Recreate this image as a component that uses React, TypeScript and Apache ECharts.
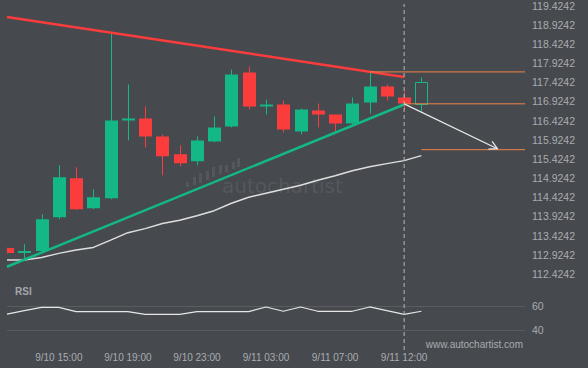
import React, { useEffect, useRef } from 'react';
import * as echarts from 'echarts';

// ---- data ----
const xLabelIndex = [3, 7, 11, 15, 19, 23];
const xLabelText = ['9/10 15:00', '9/10 19:00', '9/10 23:00', '9/11 03:00', '9/11 07:00', '9/11 12:00'];
const yTickLabels = [
  '112.4242', '112.9242', '113.4242', '113.9242', '114.4242', '114.9242', '115.4242', '115.9242',
  '116.4242', '116.9242', '117.4242', '117.9242', '118.4242', '118.9242', '119.4242',
];
const priceMin = 112.4242;
const priceMax = 119.4242;

const candleOpen = [
  113.1, 112.996, 113.022, 113.905, 114.919, 114.139, 114.399, 116.453, 116.479, 116.011,
  115.543, 115.361, 115.881, 116.271, 117.675, 116.817, 116.843, 116.141, 116.687, 116.583,
  116.349, 116.895, 117.311, 117.025, 116.869,
];
const candleHigh = [
  113.11, 113.204, 113.983, 115.257, 115.205, 114.633, 118.714, 117.363, 116.791, 116.063,
  115.777, 116.011, 116.531, 117.753, 117.831, 116.973, 116.947, 116.739, 116.869, 116.583,
  117.025, 117.675, 117.363, 117.181, 117.545,
];
const candleLow = [
  112.96, 112.788, 113.022, 113.853, 114.087, 114.113, 114.373, 115.907, 115.725, 114.997,
  115.231, 115.257, 115.855, 116.245, 116.713, 116.583, 116.115, 116.063, 116.245, 116.141,
  116.323, 116.609, 116.947, 116.687, 116.661,
];
const candleClose = [
  112.97, 112.996, 113.853, 114.945, 114.113, 114.425, 116.427, 116.453, 116.011, 115.491,
  115.309, 115.907, 116.245, 117.623, 116.791, 116.817, 116.193, 116.713, 116.583, 116.349,
  116.869, 117.311, 117.051, 116.869, 117.441,
];
const openCandleIndex = 24; // the still-forming (hollow) candle

const maValues = [
  112.788, 112.788, 112.853, 112.962, 113.048, 113.118, 113.308, 113.502, 113.607, 113.742,
  113.828, 113.945, 114.075, 114.27, 114.425, 114.53, 114.634, 114.738, 114.868, 114.984,
  115.114, 115.218, 115.302, 115.38, 115.51,
];
const rsiValues = [
  53.3, 56.1, 58.9, 58.9, 55.3, 55.3, 55.3, 55.3, 53, 53, 53, 55.3, 55.3, 55.3, 55.3,
  59.2, 55.6, 59.2, 55.6, 55.6, 55.6, 59.2, 56.1, 53, 55.6,
];

const resistanceLine = [[0, 119.123], [23, 117.563]];
const supportLine = [[0, 112.614], [23, 116.843]];
const levelHigh = [21, 117.693];
const levelLow = [23, 116.861];
const targetLevel = [24, 115.665];
const arrowStart = [23, 116.861];
const arrowEnd = [28.4, 115.69];
const currentIndex = 23;
const xMax = 30;

// ---- style ----
const BG = '#46494e';
const GREEN = '#13b886';
const RED = '#fb3c3c';
const ORANGE = '#ef8449';
const TEXT = '#a9acb1';
const FONT = '"Liberation Sans", Arial, sans-serif';

const logoBars = [
  [186, 182, 187], [193, 177, 185], [199, 173, 183], [206, 171, 180], [212, 167, 177],
  [219, 165, 174], [225, 165, 172], [232, 162, 169], [237, 158, 167],
];

export default function App() {
  const ref = useRef<HTMLDivElement>(null);
  useEffect(() => {
    if (!ref.current) return;
    const chart = echarts.init(ref.current, null, { renderer: 'svg' });
    const candleData = candleOpen.map((o, i) => [
      i, o, candleHigh[i], candleLow[i], candleClose[i], i === openCandleIndex ? 1 : 0,
    ]);
    const gridL = 7;
    const gridR = 63;
    const option: any = {
      animation: false,
      backgroundColor: BG,
      grid: [
        { left: gridL, right: gridR, top: 4.7, height: 269.3 },
        { left: gridL, right: gridR, top: 306, height: 24 },
        { left: gridL, right: gridR, top: 4, bottom: 18 },
      ],
      xAxis: [
        { type: 'value', gridIndex: 0, min: 0, max: xMax, show: false },
        {
          type: 'value', gridIndex: 1, min: 0, max: xMax, interval: 1,
          axisLine: { show: false }, axisTick: { show: false }, splitLine: { show: false },
          axisLabel: {
            color: TEXT, fontSize: 10, fontFamily: FONT, margin: 22,
            showMinLabel: true, showMaxLabel: true,
            formatter: (v: number) => {
              const k = xLabelIndex.indexOf(Math.round(v));
              return k >= 0 ? xLabelText[k] : '';
            },
          },
        },
        { type: 'value', gridIndex: 2, min: 0, max: xMax, show: false },
      ],
      yAxis: [
        { type: 'value', gridIndex: 0, min: priceMin, max: priceMax, show: false },
        {
          type: 'value', gridIndex: 0, min: 0, max: 7, interval: 0.5, position: 'right',
          axisLine: { show: false }, axisTick: { show: false }, splitLine: { show: false },
          axisLabel: {
            color: TEXT, fontSize: 10.5, fontFamily: FONT, margin: 7,
            formatter: (v: number) => yTickLabels[Math.round(v / 0.5)] ?? '',
          },
        },
        {
          type: 'value', gridIndex: 1, min: 40, max: 60, interval: 20, position: 'right',
          axisLine: { show: false }, axisTick: { show: false },
          splitLine: { show: true, lineStyle: { color: '#595d62', width: 1 } },
          axisLabel: { color: TEXT, fontSize: 10.5, fontFamily: FONT, margin: 7 },
        },
        { type: 'value', gridIndex: 2, min: 0, max: 1, show: false },
      ],
      graphic: [
        ...logoBars.map(([x, t, b]) => ({
          type: 'rect', z: 1, silent: true,
          shape: { x, y: t, width: 3, height: b - t },
          style: { fill: '#54585d' },
        })),
        {
          type: 'text', z: 1, silent: true, x: 222, y: 186,
          style: {
            text: 'autochartist', fill: '#54585d', fontSize: 20,
            fontFamily: '"DejaVu Sans", sans-serif', textVerticalAlign: 'middle',
          },
        },
        {
          type: 'text', silent: true, x: 15, y: 291,
          style: {
            text: 'RSI', fill: '#a3a6ab', fontSize: 10, fontWeight: 'bold',
            fontFamily: FONT, textVerticalAlign: 'middle',
          },
        },
        {
          type: 'text', silent: true, x: 523, y: 344,
          style: {
            text: 'www.autochartist.com', fill: TEXT, fontSize: 10,
            fontFamily: FONT, textAlign: 'right', textVerticalAlign: 'middle',
          },
        },
      ],
      series: [
        {
          type: 'custom', xAxisIndex: 0, yAxisIndex: 0, clip: true, z: 3, silent: true,
          data: candleData,
          encode: { x: 0, y: [1, 2, 3, 4] },
          renderItem: (params: any, api: any) => {
            const i = api.value(0);
            const o = api.value(1), h = api.value(2), l = api.value(3), c = api.value(4);
            const hollow = api.value(5) === 1;
            const pO = api.coord([i, o]);
            const pC = api.coord([i, c]);
            const pH = api.coord([i, h]);
            const pL = api.coord([i, l]);
            const w = Math.round(api.size([1, 0])[0] * 0.75);
            const cx = Math.round(pO[0]);
            const color = c >= o ? GREEN : RED;
            const top = Math.min(pO[1], pC[1]);
            const bot = Math.max(pO[1], pC[1]);
            const children: any[] = [
              {
                type: 'line',
                shape: { x1: cx + 0.5, y1: pH[1], x2: cx + 0.5, y2: pL[1] },
                style: { stroke: color, lineWidth: 1 },
              },
            ];
            const left = cx - Math.floor(w / 2);
            if (bot - top < 1.5) {
              children.push({
                type: 'line',
                shape: { x1: left, y1: top, x2: left + w, y2: top },
                style: { stroke: color, lineWidth: 2 },
              });
            } else if (hollow) {
              children.push({
                type: 'rect',
                shape: { x: left + 0.5, y: Math.round(top) + 0.5, width: w - 1, height: Math.round(bot - top) },
                style: { fill: BG, stroke: color, lineWidth: 1 },
              });
            } else {
              children.push({
                type: 'rect',
                shape: { x: left, y: top, width: w, height: bot - top },
                style: { fill: color },
              });
            }
            return { type: 'group', children };
          },
        },
        {
          type: 'line', xAxisIndex: 0, yAxisIndex: 0, data: maValues.map((v, i) => [i, v]),
          showSymbol: false, symbol: 'none', z: 3, silent: true,
          lineStyle: { color: '#dedede', width: 1.5 },
        },
        {
          type: 'line', xAxisIndex: 0, yAxisIndex: 0, data: resistanceLine,
          symbol: 'none', z: 4, silent: true, lineStyle: { color: RED, width: 2.5 },
        },
        {
          type: 'line', xAxisIndex: 0, yAxisIndex: 0, data: supportLine,
          symbol: 'none', z: 4, silent: true, lineStyle: { color: GREEN, width: 2.5 },
        },
        {
          type: 'line', xAxisIndex: 0, yAxisIndex: 0,
          data: [[levelHigh[0], levelHigh[1]], [xMax, levelHigh[1]]],
          symbol: 'none', z: 4, silent: true, lineStyle: { color: ORANGE, width: 1 },
        },
        {
          type: 'line', xAxisIndex: 0, yAxisIndex: 0,
          data: [[levelLow[0], levelLow[1]], [xMax, levelLow[1]]],
          symbol: 'none', z: 4, silent: true, lineStyle: { color: ORANGE, width: 1 },
        },
        {
          type: 'line', xAxisIndex: 0, yAxisIndex: 0,
          data: [[targetLevel[0], targetLevel[1]], [xMax, targetLevel[1]]],
          symbol: 'none', z: 4, silent: true, lineStyle: { color: ORANGE, width: 1 },
        },
        {
          type: 'custom', xAxisIndex: 0, yAxisIndex: 0, z: 5, silent: true,
          data: [[arrowStart[0], arrowStart[1], arrowEnd[0], arrowEnd[1]]],
          encode: { x: [0, 2], y: [1, 3] },
          renderItem: (params: any, api: any) => {
            const p1 = api.coord([api.value(0), api.value(1)]);
            const p2 = api.coord([api.value(2), api.value(3)]);
            const a = Math.atan2(p2[1] - p1[1], p2[0] - p1[0]);
            const L = 9;
            const w1 = [p2[0] - L * Math.cos(a - 0.5), p2[1] - L * Math.sin(a - 0.5)];
            const w2 = [p2[0] - L * Math.cos(a + 0.5), p2[1] - L * Math.sin(a + 0.5)];
            return {
              type: 'group',
              children: [
                { type: 'line', shape: { x1: p1[0], y1: p1[1], x2: p2[0], y2: p2[1] }, style: { stroke: '#e8e8e8', lineWidth: 1.3 } },
                { type: 'polyline', shape: { points: [w1, p2, w2] }, style: { stroke: '#e8e8e8', lineWidth: 1.3, fill: 'none' } },
              ],
            };
          },
        },
        {
          type: 'scatter', xAxisIndex: 0, yAxisIndex: 0, silent: true, z: 5,
          data: [[levelHigh[0], levelHigh[1]]], symbolSize: 1, itemStyle: { opacity: 0 },
          label: {
            show: true, formatter: 'A', position: 'top', distance: 1,
            color: ORANGE, fontSize: 10, fontFamily: FONT,
          },
        },
        {
          type: 'line', xAxisIndex: 1, yAxisIndex: 2, data: rsiValues.map((v, i) => [i, v]),
          symbol: 'none', silent: true, lineStyle: { color: '#e6e6e6', width: 1.2 },
        },
        {
          type: 'line', xAxisIndex: 2, yAxisIndex: 3,
          data: [[currentIndex, 0], [currentIndex, 1]],
          symbol: 'none', silent: true, z: 6,
          lineStyle: { color: '#b3b6ba', width: 1, type: [4, 3] },
        },
      ],
    };
    chart.setOption(option);
    return () => chart.dispose();
  }, []);
  return (
    <div
      ref={ref}
      style={{ position: 'fixed', left: 0, top: 0, width: 588, height: 368, background: BG }}
    />
  );
}
